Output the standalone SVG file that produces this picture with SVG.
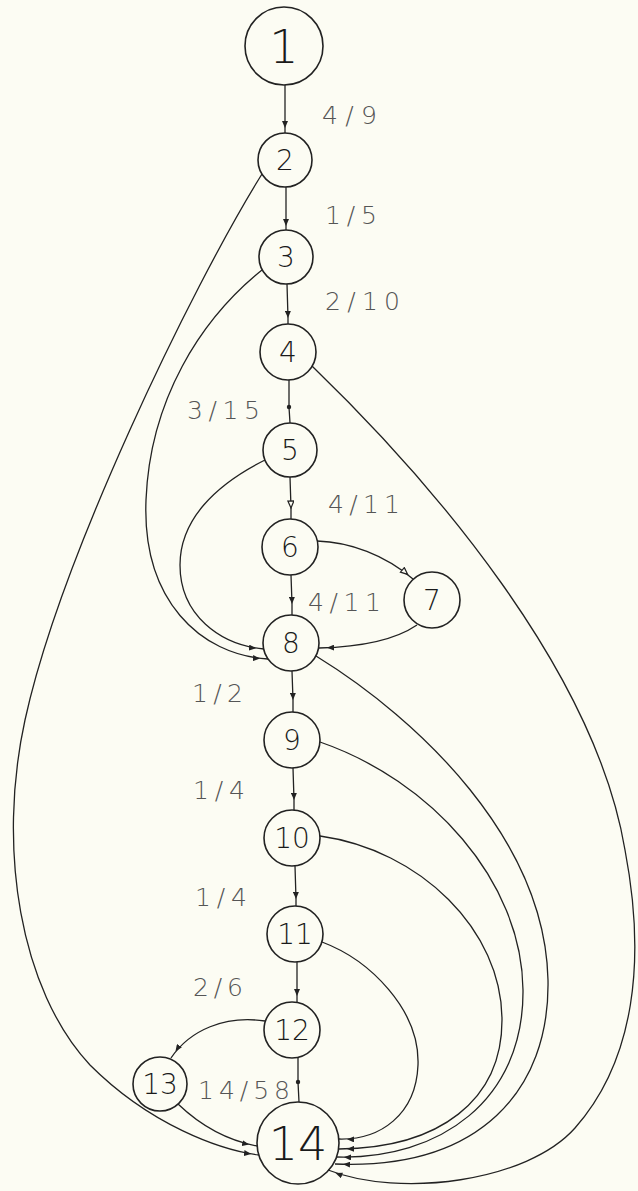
<svg xmlns="http://www.w3.org/2000/svg" width="638" height="1191" viewBox="0 0 638 1191">
<style>
.node circle{fill:none;stroke:#222;stroke-width:1.6}
.node text{font-family:"DejaVu Sans","Liberation Sans",sans-serif;font-weight:200;fill:#1a1a1a;text-anchor:middle}
.lbl{font-family:"DejaVu Sans","Liberation Sans",sans-serif;font-weight:200;font-size:25px;fill:#555}
.e{fill:none;stroke:#222;stroke-width:1.3}
</style>
<defs>
<marker id="am" markerUnits="userSpaceOnUse" markerWidth="8" markerHeight="6" refX="7" refY="3" orient="auto"><path d="M0,0 L7,3 L0,6 z" fill="#222"/></marker>
<marker id="ao" markerUnits="userSpaceOnUse" markerWidth="10" markerHeight="8" refX="8" refY="3.5" orient="auto"><path d="M1,0.5 L8,3.5 L1,6.5 z" fill="#fcfcf3" stroke="#222" stroke-width="1.2"/></marker>
<marker id="ae" markerUnits="userSpaceOnUse" markerWidth="16" markerHeight="6" refX="15" refY="3" orient="auto"><path d="M0,0 L7,3 L0,6 z" fill="#222"/></marker>
<marker id="aoe" markerUnits="userSpaceOnUse" markerWidth="18" markerHeight="8" refX="15" refY="3.5" orient="auto"><path d="M1,0.5 L8,3.5 L1,6.5 z" fill="#fcfcf3" stroke="#222" stroke-width="1.2"/></marker>
<marker id="dot" markerUnits="userSpaceOnUse" markerWidth="6" markerHeight="6" refX="3" refY="3"><circle cx="3" cy="3" r="2.2" fill="#222"/></marker>
</defs>
<rect width="638" height="1191" fill="#fcfcf3"/>
<g id="connectors">
<path class="e" d="M285,85 L285,128 L285,133" marker-mid="url(#am)"/>
<path class="e" d="M286,187 L286,226 L286,230" marker-mid="url(#am)"/>
<path class="e" d="M287,284 L288,318 L288,324" marker-mid="url(#am)"/>
<path class="e" d="M289,380 L289,407 L290,423" marker-mid="url(#dot)"/>
<path class="e" d="M290,477 L291,508 L291,519" marker-mid="url(#ao)"/>
<path class="e" d="M291,575 L292,604 L292,615" marker-mid="url(#am)"/>
<path class="e" d="M292,671 L293,700 L293,712" marker-mid="url(#am)"/>
<path class="e" d="M293,768 L294,800 L294,810" marker-mid="url(#am)"/>
<path class="e" d="M295,866 L296,899 L296,906" marker-mid="url(#am)"/>
<path class="e" d="M297,962 L297,996 L297,1002" marker-mid="url(#am)"/>
<path class="e" d="M298,1058 L298,1082 L299,1102" marker-mid="url(#dot)"/>
<path class="e" d="M262,174 C190,290 60,560 25,720 C-3,848 20,990 90,1065 C150,1125 220,1150 259,1155" marker-end="url(#ae)"/>
<path class="e" d="M262,270 C200,320 150,400 146,500 C142,600 200,655 268,659" marker-end="url(#ae)"/>
<path class="e" d="M265,460 C215,485 180,520 180,565 C180,615 220,645 264,649" marker-end="url(#ae)"/>
<path class="e" d="M317,541 C350,542 385,555 413,579" marker-end="url(#aoe)"/>
<path class="e" d="M417,625 C395,640 360,647 319,648" marker-end="url(#ae)"/>
<path class="e" d="M312,366 C430,480 595,670 625,850 C646,960 635,1060 575,1128 C527,1182 400,1198 328,1170" marker-end="url(#ae)"/>
<path class="e" d="M316,656 C420,720 545,840 548,980 C550,1090 480,1170 335,1164" marker-end="url(#ae)"/>
<path class="e" d="M320,742 C430,780 522,880 523,990 C524,1100 440,1160 336,1157" marker-end="url(#ae)"/>
<path class="e" d="M320,836 C420,850 502,930 502,1020 C502,1100 440,1148 339,1149" marker-end="url(#ae)"/>
<path class="e" d="M322,942 C370,960 420,1010 418,1065 C416,1115 380,1140 339,1139" marker-end="url(#ae)"/>
<path class="e" d="M265,1021 C225,1015 190,1030 171,1058" marker-end="url(#ae)"/>
<path class="e" d="M178,1104 C200,1125 225,1140 257,1146" marker-end="url(#ae)"/>
</g>
<g id="labels">
<text class="lbl" x="322" y="124" textLength="55" lengthAdjust="spacing">4/9</text>
<text class="lbl" x="325" y="224" textLength="52" lengthAdjust="spacing">1/5</text>
<text class="lbl" x="325" y="310" textLength="75" lengthAdjust="spacing">2/10</text>
<text class="lbl" x="187" y="419" textLength="73" lengthAdjust="spacing">3/15</text>
<text class="lbl" x="328" y="513" textLength="72" lengthAdjust="spacing">4/11</text>
<text class="lbl" x="308" y="611" textLength="73" lengthAdjust="spacing">4/11</text>
<text class="lbl" x="192" y="702" textLength="51" lengthAdjust="spacing">1/2</text>
<text class="lbl" x="193" y="799" textLength="52" lengthAdjust="spacing">1/4</text>
<text class="lbl" x="195" y="906" textLength="52" lengthAdjust="spacing">1/4</text>
<text class="lbl" x="193" y="996" textLength="50" lengthAdjust="spacing">2/6</text>
<text class="lbl" x="198" y="1099" textLength="92" lengthAdjust="spacing">14/58</text>
</g>
<g id="n1" class="node"><circle cx="284" cy="46" r="39"/><text x="284" y="63" font-size="46">1</text></g>
<g id="n2" class="node"><circle cx="285" cy="160" r="27"/><text x="285" y="170" font-size="28">2</text></g>
<g id="n3" class="node"><circle cx="286" cy="257" r="27"/><text x="286" y="267" font-size="28">3</text></g>
<g id="n4" class="node"><circle cx="288" cy="352" r="28"/><text x="288" y="362" font-size="28">4</text></g>
<g id="n5" class="node"><circle cx="290" cy="450" r="27"/><text x="290" y="460" font-size="28">5</text></g>
<g id="n6" class="node"><circle cx="290" cy="547" r="28"/><text x="290" y="557" font-size="28">6</text></g>
<g id="n7" class="node"><circle cx="432" cy="600" r="28"/><text x="432" y="610" font-size="28">7</text></g>
<g id="n8" class="node"><circle cx="291" cy="643" r="28"/><text x="291" y="653" font-size="28">8</text></g>
<g id="n9" class="node"><circle cx="292" cy="740" r="28"/><text x="292" y="750" font-size="28">9</text></g>
<g id="n10" class="node"><circle cx="292" cy="838" r="28"/><text x="292" y="848" font-size="28">10</text></g>
<g id="n11" class="node"><circle cx="295" cy="934" r="28"/><text x="295" y="944" font-size="28">11</text></g>
<g id="n12" class="node"><circle cx="292" cy="1030" r="28"/><text x="292" y="1040" font-size="28">12</text></g>
<g id="n13" class="node"><circle cx="160" cy="1084" r="27"/><text x="160" y="1094" font-size="28">13</text></g>
<g id="n14" class="node"><circle cx="298" cy="1143" r="41"/><text x="298" y="1160" font-size="46">14</text></g>
</svg>
